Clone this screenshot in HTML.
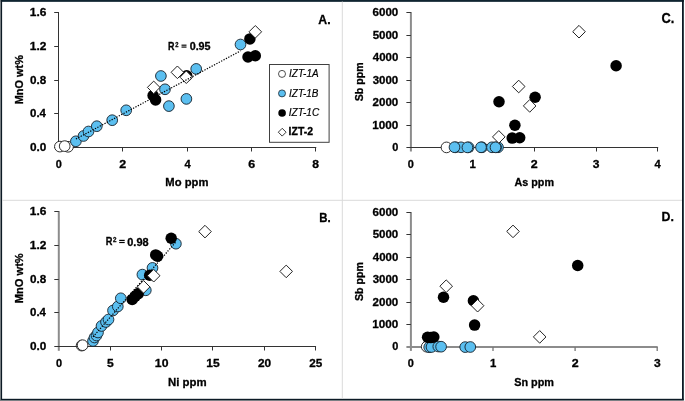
<!DOCTYPE html>
<html><head><meta charset="utf-8"><style>
html,body{margin:0;padding:0;background:#fff;}
svg{display:block;font-family:"Liberation Sans", sans-serif;will-change:transform;}
</style></head><body>
<svg width="685" height="401" viewBox="0 0 685 401" font-family='"Liberation Sans", sans-serif'>
<rect x="0" y="0" width="685" height="401" fill="#7a8084"/>
<rect x="0.8" y="0" width="684.2" height="400" fill="#fff"/>
<rect x="683.8" y="399.8" width="1.2" height="1.2" fill="#f4f4f4"/>
<rect x="0.8" y="0" width="683.0" height="1.85" fill="#0f2430"/>
<rect x="0.8" y="0" width="1.3" height="399.8" fill="#0c1a25"/>
<rect x="682.0" y="0" width="1.8" height="399.8" fill="#0c1a25"/>
<rect x="0.8" y="398.8" width="683.0" height="1.2" fill="#0c1a25"/>
<line x1="342.3" y1="1.6" x2="342.3" y2="398.4" stroke="#dadada" stroke-width="1" />
<line x1="2.2" y1="200.3" x2="682" y2="200.3" stroke="#dadada" stroke-width="1" />
<line x1="58.5" y1="148.0" x2="58.5" y2="12.0" stroke="#333" stroke-width="1" />
<line x1="58.0" y1="147.5" x2="316.28" y2="147.5" stroke="#333" stroke-width="1" />
<line x1="54.2" y1="147.5" x2="58.5" y2="147.5" stroke="#333" stroke-width="1" />
<line x1="54.2" y1="113.5" x2="58.5" y2="113.5" stroke="#333" stroke-width="1" />
<line x1="54.2" y1="80.5" x2="58.5" y2="80.5" stroke="#333" stroke-width="1" />
<line x1="54.2" y1="46.5" x2="58.5" y2="46.5" stroke="#333" stroke-width="1" />
<line x1="54.2" y1="12.5" x2="58.5" y2="12.5" stroke="#333" stroke-width="1" />
<line x1="58.5" y1="147.5" x2="58.5" y2="151.5" stroke="#333" stroke-width="1" />
<line x1="122.5" y1="147.5" x2="122.5" y2="151.5" stroke="#333" stroke-width="1" />
<line x1="187.5" y1="147.5" x2="187.5" y2="151.5" stroke="#333" stroke-width="1" />
<line x1="251.5" y1="147.5" x2="251.5" y2="151.5" stroke="#333" stroke-width="1" />
<line x1="315.5" y1="147.5" x2="315.5" y2="151.5" stroke="#333" stroke-width="1" />
<text x="30.03" y="151.10" font-size="11.00" font-weight="bold" font-style="normal" textLength="16.35" lengthAdjust="spacingAndGlyphs" fill="#000" stroke="#000" stroke-width="0.3" >0.0</text>
<text x="30.05" y="117.10" font-size="11.00" font-weight="bold" font-style="normal" textLength="15.91" lengthAdjust="spacingAndGlyphs" fill="#000" stroke="#000" stroke-width="0.3" >0.4</text>
<text x="30.04" y="84.10" font-size="11.00" font-weight="bold" font-style="normal" textLength="16.22" lengthAdjust="spacingAndGlyphs" fill="#000" stroke="#000" stroke-width="0.3" >0.8</text>
<text x="29.75" y="50.10" font-size="11.00" font-weight="bold" font-style="normal" textLength="16.63" lengthAdjust="spacingAndGlyphs" fill="#000" stroke="#000" stroke-width="0.3" >1.2</text>
<text x="29.75" y="16.10" font-size="11.00" font-weight="bold" font-style="normal" textLength="16.58" lengthAdjust="spacingAndGlyphs" fill="#000" stroke="#000" stroke-width="0.3" >1.6</text>
<text x="55.67" y="167.60" font-size="11.00" font-weight="bold" font-style="normal" textLength="6.08" lengthAdjust="spacingAndGlyphs" fill="#000" stroke="#000" stroke-width="0.3" >0</text>
<text x="119.27" y="167.60" font-size="11.00" font-weight="bold" font-style="normal" textLength="6.93" lengthAdjust="spacingAndGlyphs" fill="#000" stroke="#000" stroke-width="0.3" >2</text>
<text x="184.53" y="167.60" font-size="11.00" font-weight="bold" font-style="normal" textLength="6.23" lengthAdjust="spacingAndGlyphs" fill="#000" stroke="#000" stroke-width="0.3" >4</text>
<text x="248.25" y="167.60" font-size="11.00" font-weight="bold" font-style="normal" textLength="6.90" lengthAdjust="spacingAndGlyphs" fill="#000" stroke="#000" stroke-width="0.3" >6</text>
<text x="312.31" y="167.60" font-size="11.00" font-weight="bold" font-style="normal" textLength="6.76" lengthAdjust="spacingAndGlyphs" fill="#000" stroke="#000" stroke-width="0.3" >8</text>
<text x="165.35" y="186.00" font-size="11.34" font-weight="bold" font-style="normal" textLength="43.05" lengthAdjust="spacingAndGlyphs" fill="#000" stroke="#000" stroke-width="0.3" >Mo ppm</text>
<text transform="translate(23.00,104.23) rotate(-90)" x="0" y="0" font-size="11.63" font-weight="bold" textLength="49.12" lengthAdjust="spacingAndGlyphs" stroke="#000" stroke-width="0.3">MnO wt%</text>
<text x="318.29" y="23.60" font-size="13.23" font-weight="bold" font-style="normal" textLength="12.25" lengthAdjust="spacingAndGlyphs" fill="#000" stroke="#000" stroke-width="0.3" >A.</text>
<circle cx="59.9" cy="146.6" r="5.35" fill="#fff" stroke="#1a1a1a" stroke-width="0.9"/>
<circle cx="68.0" cy="146.8" r="5.35" fill="#fff" stroke="#1a1a1a" stroke-width="0.9"/>
<circle cx="64.7" cy="146.1" r="5.35" fill="#fff" stroke="#1a1a1a" stroke-width="0.9"/>
<circle cx="75.9" cy="141.3" r="5.35" fill="#5bbff0" stroke="#15202a" stroke-width="0.9"/>
<circle cx="83.5" cy="136" r="5.35" fill="#5bbff0" stroke="#15202a" stroke-width="0.9"/>
<circle cx="88.5" cy="131.5" r="5.35" fill="#5bbff0" stroke="#15202a" stroke-width="0.9"/>
<circle cx="96.8" cy="126.2" r="5.35" fill="#5bbff0" stroke="#15202a" stroke-width="0.9"/>
<circle cx="112.2" cy="120.2" r="5.35" fill="#5bbff0" stroke="#15202a" stroke-width="0.9"/>
<circle cx="126.2" cy="110.3" r="5.35" fill="#5bbff0" stroke="#15202a" stroke-width="0.9"/>
<circle cx="160.9" cy="76" r="5.35" fill="#5bbff0" stroke="#15202a" stroke-width="0.9"/>
<circle cx="165" cy="89.3" r="5.35" fill="#5bbff0" stroke="#15202a" stroke-width="0.9"/>
<circle cx="168.9" cy="106.1" r="5.35" fill="#5bbff0" stroke="#15202a" stroke-width="0.9"/>
<circle cx="186.4" cy="98.9" r="5.35" fill="#5bbff0" stroke="#15202a" stroke-width="0.9"/>
<circle cx="196.2" cy="68.9" r="5.35" fill="#5bbff0" stroke="#15202a" stroke-width="0.9"/>
<circle cx="240.5" cy="44.5" r="5.35" fill="#5bbff0" stroke="#15202a" stroke-width="0.9"/>
<circle cx="153.1" cy="95.5" r="5.75" fill="#000"/>
<circle cx="155.6" cy="99.9" r="5.75" fill="#000"/>
<circle cx="186.7" cy="75.7" r="5.75" fill="#000"/>
<circle cx="249.9" cy="38.9" r="5.75" fill="#000"/>
<circle cx="248" cy="57" r="5.75" fill="#000"/>
<circle cx="255.3" cy="55.7" r="5.75" fill="#000"/>
<path d="M153.7 81.10000000000001L160.0 87.4L153.7 93.7L147.39999999999998 87.4Z" fill="#fff" stroke="#222" stroke-width="1"/>
<path d="M177.4 66.0L183.70000000000002 72.3L177.4 78.6L171.1 72.3Z" fill="#fff" stroke="#222" stroke-width="1"/>
<path d="M186.3 70.9L192.60000000000002 77.2L186.3 83.5L180.0 77.2Z" fill="#fff" stroke="#222" stroke-width="1"/>
<path d="M255.3 25.5L261.6 31.8L255.3 38.1L249.0 31.8Z" fill="#fff" stroke="#222" stroke-width="1"/>
<line x1="75.9" y1="139.0" x2="240.5" y2="50.9" stroke="#000" stroke-width="1.2" stroke-dasharray="1.3 1.4"/>
<text x="168.00" y="49.70" font-size="10.47" font-weight="bold" font-style="normal" textLength="6.48" lengthAdjust="spacingAndGlyphs" fill="#000" stroke="#000" stroke-width="0.3" >R</text>
<text x="175.25" y="46.60" font-size="7.07" font-weight="bold" font-style="normal" textLength="3.23" lengthAdjust="spacingAndGlyphs" fill="#000" stroke="#000" stroke-width="0.3" >2</text>
<rect x="181.5" y="44.6" width="5.0" height="1.15" fill="#000"/><rect x="181.5" y="46.5" width="5.0" height="1.15" fill="#000"/>
<text x="189.67" y="49.70" font-size="10.29" font-weight="bold" font-style="normal" textLength="20.92" lengthAdjust="spacingAndGlyphs" fill="#000" stroke="#000" stroke-width="0.3" >0.95</text>
<rect x="269.5" y="64.5" width="59.6" height="77.8" fill="#fff" stroke="#404040" stroke-width="1"/>
<circle cx="282.0" cy="73.9" r="3.5" fill="#fff" stroke="#222" stroke-width="0.8"/>
<circle cx="282.0" cy="93.4" r="3.5" fill="#5bbff0" stroke="#1b2630" stroke-width="0.8"/>
<circle cx="282.1" cy="113.0" r="3.8" fill="#000"/>
<path d="M282.2 128.3L286.1 132.2L282.2 136.1L278.3 132.2Z" fill="#fff" stroke="#222" stroke-width="0.9"/>
<text x="289.12" y="77.40" font-size="10.32" font-weight="normal" font-style="italic" textLength="29.50" lengthAdjust="spacingAndGlyphs" fill="#000" stroke="#000" stroke-width="0.18" >IZT-1A</text>
<text x="289.12" y="96.90" font-size="10.32" font-weight="normal" font-style="italic" textLength="29.31" lengthAdjust="spacingAndGlyphs" fill="#000" stroke="#000" stroke-width="0.18" >IZT-1B</text>
<text x="288.81" y="116.30" font-size="10.32" font-weight="normal" font-style="italic" textLength="30.43" lengthAdjust="spacingAndGlyphs" fill="#000" stroke="#000" stroke-width="0.18" >IZT-1C</text>
<text x="288.62" y="135.40" font-size="10.32" font-weight="bold" font-style="normal" textLength="24.39" lengthAdjust="spacingAndGlyphs" fill="#000" stroke="#000" stroke-width="0.3" >IZT-2</text>
<line x1="58.8" y1="350.8" x2="58.8" y2="211.0" stroke="#8c8c8c" stroke-width="2" />
<line x1="54.3" y1="346.5" x2="316.05" y2="346.5" stroke="#333" stroke-width="1" />
<line x1="54.3" y1="312.5" x2="58.8" y2="312.5" stroke="#333" stroke-width="1" />
<line x1="54.3" y1="279.5" x2="58.8" y2="279.5" stroke="#333" stroke-width="1" />
<line x1="54.3" y1="245.5" x2="58.8" y2="245.5" stroke="#333" stroke-width="1" />
<line x1="54.3" y1="211.5" x2="58.8" y2="211.5" stroke="#333" stroke-width="1" />
<line x1="110.5" y1="346.5" x2="110.5" y2="350.5" stroke="#333" stroke-width="1" />
<line x1="161.5" y1="346.5" x2="161.5" y2="350.5" stroke="#333" stroke-width="1" />
<line x1="212.5" y1="346.5" x2="212.5" y2="350.5" stroke="#333" stroke-width="1" />
<line x1="264.5" y1="346.5" x2="264.5" y2="350.5" stroke="#333" stroke-width="1" />
<line x1="315.5" y1="346.5" x2="315.5" y2="350.5" stroke="#333" stroke-width="1" />
<text x="30.03" y="350.10" font-size="11.00" font-weight="bold" font-style="normal" textLength="16.35" lengthAdjust="spacingAndGlyphs" fill="#000" stroke="#000" stroke-width="0.3" >0.0</text>
<text x="30.05" y="316.10" font-size="11.00" font-weight="bold" font-style="normal" textLength="15.91" lengthAdjust="spacingAndGlyphs" fill="#000" stroke="#000" stroke-width="0.3" >0.4</text>
<text x="30.04" y="283.10" font-size="11.00" font-weight="bold" font-style="normal" textLength="16.22" lengthAdjust="spacingAndGlyphs" fill="#000" stroke="#000" stroke-width="0.3" >0.8</text>
<text x="29.75" y="249.10" font-size="11.00" font-weight="bold" font-style="normal" textLength="16.63" lengthAdjust="spacingAndGlyphs" fill="#000" stroke="#000" stroke-width="0.3" >1.2</text>
<text x="29.75" y="215.10" font-size="11.00" font-weight="bold" font-style="normal" textLength="16.58" lengthAdjust="spacingAndGlyphs" fill="#000" stroke="#000" stroke-width="0.3" >1.6</text>
<text x="56.07" y="366.90" font-size="11.43" font-weight="bold" font-style="normal" textLength="6.08" lengthAdjust="spacingAndGlyphs" fill="#000" stroke="#000" stroke-width="0.3" >0</text>
<text x="107.08" y="366.90" font-size="11.43" font-weight="bold" font-style="normal" textLength="6.71" lengthAdjust="spacingAndGlyphs" fill="#000" stroke="#000" stroke-width="0.3" >5</text>
<text x="154.88" y="366.90" font-size="11.43" font-weight="bold" font-style="normal" textLength="13.57" lengthAdjust="spacingAndGlyphs" fill="#000" stroke="#000" stroke-width="0.3" >10</text>
<text x="206.24" y="366.90" font-size="11.43" font-weight="bold" font-style="normal" textLength="13.39" lengthAdjust="spacingAndGlyphs" fill="#000" stroke="#000" stroke-width="0.3" >15</text>
<text x="257.94" y="366.90" font-size="11.43" font-weight="bold" font-style="normal" textLength="13.20" lengthAdjust="spacingAndGlyphs" fill="#000" stroke="#000" stroke-width="0.3" >20</text>
<text x="309.29" y="366.90" font-size="11.43" font-weight="bold" font-style="normal" textLength="13.03" lengthAdjust="spacingAndGlyphs" fill="#000" stroke="#000" stroke-width="0.3" >25</text>
<text x="167.94" y="385.70" font-size="11.77" font-weight="bold" font-style="normal" textLength="38.67" lengthAdjust="spacingAndGlyphs" fill="#000" stroke="#000" stroke-width="0.3" >Ni ppm</text>
<text transform="translate(23.00,303.24) rotate(-90)" x="0" y="0" font-size="11.63" font-weight="bold" textLength="49.94" lengthAdjust="spacingAndGlyphs" stroke="#000" stroke-width="0.3">MnO wt%</text>
<text x="319.13" y="221.60" font-size="13.52" font-weight="bold" font-style="normal" textLength="11.45" lengthAdjust="spacingAndGlyphs" fill="#000" stroke="#000" stroke-width="0.3" >B.</text>
<circle cx="81.6" cy="345.6" r="5.35" fill="#fff" stroke="#1a1a1a" stroke-width="0.9"/>
<circle cx="82.6" cy="345.2" r="5.35" fill="#fff" stroke="#1a1a1a" stroke-width="0.9"/>
<circle cx="93.0" cy="341.0" r="5.35" fill="#5bbff0" stroke="#15202a" stroke-width="0.9"/>
<circle cx="94.5" cy="337.5" r="5.35" fill="#5bbff0" stroke="#15202a" stroke-width="0.9"/>
<circle cx="96.5" cy="335.5" r="5.35" fill="#5bbff0" stroke="#15202a" stroke-width="0.9"/>
<circle cx="98.0" cy="332.5" r="5.35" fill="#5bbff0" stroke="#15202a" stroke-width="0.9"/>
<circle cx="101.5" cy="326.0" r="5.35" fill="#5bbff0" stroke="#15202a" stroke-width="0.9"/>
<circle cx="106.0" cy="322.0" r="5.35" fill="#5bbff0" stroke="#15202a" stroke-width="0.9"/>
<circle cx="108.5" cy="319.5" r="5.35" fill="#5bbff0" stroke="#15202a" stroke-width="0.9"/>
<circle cx="113.0" cy="310.5" r="5.35" fill="#5bbff0" stroke="#15202a" stroke-width="0.9"/>
<circle cx="117.8" cy="306.5" r="5.35" fill="#5bbff0" stroke="#15202a" stroke-width="0.9"/>
<circle cx="120.8" cy="298.3" r="5.35" fill="#5bbff0" stroke="#15202a" stroke-width="0.9"/>
<circle cx="145.8" cy="290.3" r="5.35" fill="#5bbff0" stroke="#15202a" stroke-width="0.9"/>
<circle cx="142.4" cy="274.6" r="5.35" fill="#5bbff0" stroke="#15202a" stroke-width="0.9"/>
<circle cx="152.5" cy="267.9" r="5.35" fill="#5bbff0" stroke="#15202a" stroke-width="0.9"/>
<circle cx="175.9" cy="243.7" r="5.35" fill="#5bbff0" stroke="#15202a" stroke-width="0.9"/>
<circle cx="132.2" cy="299.4" r="5.75" fill="#000"/>
<circle cx="135.3" cy="296.2" r="5.75" fill="#000"/>
<circle cx="138.3" cy="293.6" r="5.75" fill="#000"/>
<circle cx="149.7" cy="275.2" r="5.75" fill="#000"/>
<circle cx="155.7" cy="254.9" r="5.75" fill="#000"/>
<circle cx="157.6" cy="256.2" r="5.75" fill="#000"/>
<circle cx="171.2" cy="238.2" r="5.75" fill="#000"/>
<path d="M143.6 280.59999999999997L149.9 286.9L143.6 293.2L137.29999999999998 286.9Z" fill="#fff" stroke="#222" stroke-width="1"/>
<path d="M153.7 269.4L160.0 275.7L153.7 282.0L147.39999999999998 275.7Z" fill="#fff" stroke="#222" stroke-width="1"/>
<path d="M205 225.29999999999998L211.3 231.6L205 237.9L198.7 231.6Z" fill="#fff" stroke="#222" stroke-width="1"/>
<path d="M286.2 265.09999999999997L292.5 271.4L286.2 277.7L279.9 271.4Z" fill="#fff" stroke="#222" stroke-width="1"/>
<line x1="93.0" y1="336.9" x2="176.0" y2="241.8" stroke="#000" stroke-width="1.2" stroke-dasharray="1.3 1.4"/>
<text x="105.68" y="245.40" font-size="10.90" font-weight="bold" font-style="normal" textLength="6.71" lengthAdjust="spacingAndGlyphs" fill="#000" stroke="#000" stroke-width="0.3" >R</text>
<text x="113.03" y="242.10" font-size="6.93" font-weight="bold" font-style="normal" textLength="3.47" lengthAdjust="spacingAndGlyphs" fill="#000" stroke="#000" stroke-width="0.3" >2</text>
<rect x="119.2" y="239.8" width="5.5" height="1.2" fill="#000"/><rect x="119.2" y="241.9" width="5.5" height="1.2" fill="#000"/>
<text x="127.27" y="245.50" font-size="10.57" font-weight="bold" font-style="normal" textLength="21.37" lengthAdjust="spacingAndGlyphs" fill="#000" stroke="#000" stroke-width="0.3" >0.98</text>
<line x1="410.9" y1="151.5" x2="410.9" y2="12.0" stroke="#8c8c8c" stroke-width="2" />
<line x1="406.4" y1="147.5" x2="658.2" y2="147.5" stroke="#333" stroke-width="1" />
<line x1="406.4" y1="125.5" x2="410.9" y2="125.5" stroke="#333" stroke-width="1" />
<line x1="406.4" y1="102.5" x2="410.9" y2="102.5" stroke="#333" stroke-width="1" />
<line x1="406.4" y1="80.5" x2="410.9" y2="80.5" stroke="#333" stroke-width="1" />
<line x1="406.4" y1="57.5" x2="410.9" y2="57.5" stroke="#333" stroke-width="1" />
<line x1="406.4" y1="35.5" x2="410.9" y2="35.5" stroke="#333" stroke-width="1" />
<line x1="406.4" y1="12.5" x2="410.9" y2="12.5" stroke="#333" stroke-width="1" />
<line x1="472.5" y1="147.5" x2="472.5" y2="151.5" stroke="#333" stroke-width="1" />
<line x1="534.5" y1="147.5" x2="534.5" y2="151.5" stroke="#333" stroke-width="1" />
<line x1="596.5" y1="147.5" x2="596.5" y2="151.5" stroke="#333" stroke-width="1" />
<line x1="657.5" y1="147.5" x2="657.5" y2="151.5" stroke="#333" stroke-width="1" />
<text x="392.17" y="151.10" font-size="11.00" font-weight="bold" font-style="normal" textLength="6.08" lengthAdjust="spacingAndGlyphs" fill="#000" stroke="#000" stroke-width="0.3" >0</text>
<text x="372.26" y="129.10" font-size="11.00" font-weight="bold" font-style="normal" textLength="26.02" lengthAdjust="spacingAndGlyphs" fill="#000" stroke="#000" stroke-width="0.3" >1000</text>
<text x="372.60" y="106.10" font-size="11.00" font-weight="bold" font-style="normal" textLength="25.67" lengthAdjust="spacingAndGlyphs" fill="#000" stroke="#000" stroke-width="0.3" >2000</text>
<text x="372.74" y="84.10" font-size="11.00" font-weight="bold" font-style="normal" textLength="25.53" lengthAdjust="spacingAndGlyphs" fill="#000" stroke="#000" stroke-width="0.3" >3000</text>
<text x="372.83" y="61.10" font-size="11.00" font-weight="bold" font-style="normal" textLength="25.44" lengthAdjust="spacingAndGlyphs" fill="#000" stroke="#000" stroke-width="0.3" >4000</text>
<text x="372.65" y="39.10" font-size="11.00" font-weight="bold" font-style="normal" textLength="25.63" lengthAdjust="spacingAndGlyphs" fill="#000" stroke="#000" stroke-width="0.3" >5000</text>
<text x="372.58" y="16.10" font-size="11.00" font-weight="bold" font-style="normal" textLength="25.70" lengthAdjust="spacingAndGlyphs" fill="#000" stroke="#000" stroke-width="0.3" >6000</text>
<text x="407.87" y="168.10" font-size="11.00" font-weight="bold" font-style="normal" textLength="6.08" lengthAdjust="spacingAndGlyphs" fill="#000" stroke="#000" stroke-width="0.3" >0</text>
<text x="469.63" y="168.10" font-size="11.00" font-weight="bold" font-style="normal" textLength="6.33" lengthAdjust="spacingAndGlyphs" fill="#000" stroke="#000" stroke-width="0.3" >1</text>
<text x="530.87" y="168.10" font-size="11.00" font-weight="bold" font-style="normal" textLength="6.93" lengthAdjust="spacingAndGlyphs" fill="#000" stroke="#000" stroke-width="0.3" >2</text>
<text x="592.72" y="168.10" font-size="11.00" font-weight="bold" font-style="normal" textLength="6.71" lengthAdjust="spacingAndGlyphs" fill="#000" stroke="#000" stroke-width="0.3" >3</text>
<text x="654.53" y="168.10" font-size="11.00" font-weight="bold" font-style="normal" textLength="6.23" lengthAdjust="spacingAndGlyphs" fill="#000" stroke="#000" stroke-width="0.3" >4</text>
<text x="514.53" y="185.80" font-size="11.05" font-weight="bold" font-style="normal" textLength="39.43" lengthAdjust="spacingAndGlyphs" fill="#000" stroke="#000" stroke-width="0.3" >As ppm</text>
<text transform="translate(363.20,101.20) rotate(-90)" x="0" y="0" font-size="11.63" font-weight="bold" textLength="38.76" lengthAdjust="spacingAndGlyphs" stroke="#000" stroke-width="0.3">Sb ppm</text>
<text x="661.57" y="22.70" font-size="14.10" font-weight="bold" font-style="normal" textLength="12.81" lengthAdjust="spacingAndGlyphs" fill="#000" stroke="#000" stroke-width="0.3" >C.</text>
<circle cx="446.5" cy="147.4" r="5.35" fill="#fff" stroke="#1a1a1a" stroke-width="0.9"/>
<circle cx="455.6" cy="147.3" r="5.35" fill="#5bbff0" stroke="#15202a" stroke-width="0.9"/>
<circle cx="461.0" cy="147.3" r="5.35" fill="#5bbff0" stroke="#15202a" stroke-width="0.9"/>
<circle cx="454.5" cy="147.2" r="5.35" fill="#5bbff0" stroke="#15202a" stroke-width="0.9"/>
<circle cx="468.6" cy="147.3" r="5.35" fill="#5bbff0" stroke="#15202a" stroke-width="0.9"/>
<circle cx="467.4" cy="147.4" r="5.35" fill="#5bbff0" stroke="#15202a" stroke-width="0.9"/>
<circle cx="482.0" cy="147.3" r="5.35" fill="#5bbff0" stroke="#15202a" stroke-width="0.9"/>
<circle cx="481.0" cy="147.3" r="5.35" fill="#5bbff0" stroke="#15202a" stroke-width="0.9"/>
<circle cx="492.0" cy="147.3" r="5.35" fill="#5bbff0" stroke="#15202a" stroke-width="0.9"/>
<circle cx="498.0" cy="147.3" r="5.35" fill="#5bbff0" stroke="#15202a" stroke-width="0.9"/>
<circle cx="496.1" cy="147.3" r="5.35" fill="#5bbff0" stroke="#15202a" stroke-width="0.9"/>
<circle cx="495.5" cy="147.3" r="5.35" fill="#5bbff0" stroke="#15202a" stroke-width="0.9"/>
<circle cx="499.0" cy="101.8" r="5.75" fill="#000"/>
<circle cx="535.1" cy="97.2" r="5.75" fill="#000"/>
<circle cx="514.9" cy="125.2" r="5.75" fill="#000"/>
<circle cx="512.2" cy="138.1" r="5.75" fill="#000"/>
<circle cx="519.7" cy="137.8" r="5.75" fill="#000"/>
<circle cx="616.1" cy="65.8" r="5.75" fill="#000"/>
<path d="M498.8 130.6L505.1 136.9L498.8 143.20000000000002L492.5 136.9Z" fill="#fff" stroke="#222" stroke-width="1"/>
<path d="M518.7 80.2L525.0 86.5L518.7 92.8L512.4000000000001 86.5Z" fill="#fff" stroke="#222" stroke-width="1"/>
<path d="M529.7 99.60000000000001L536.0 105.9L529.7 112.2L523.4000000000001 105.9Z" fill="#fff" stroke="#222" stroke-width="1"/>
<path d="M579.0 25.4L585.3 31.7L579.0 38.0L572.7 31.7Z" fill="#fff" stroke="#222" stroke-width="1"/>
<line x1="410.9" y1="350.9" x2="410.9" y2="212.0" stroke="#8c8c8c" stroke-width="2" />
<line x1="406.4" y1="346.9" x2="657.6999999999999" y2="346.9" stroke="#8c8c8c" stroke-width="2" />
<line x1="406.4" y1="324.5" x2="410.9" y2="324.5" stroke="#333" stroke-width="1" />
<line x1="406.4" y1="302.5" x2="410.9" y2="302.5" stroke="#333" stroke-width="1" />
<line x1="406.4" y1="279.5" x2="410.9" y2="279.5" stroke="#333" stroke-width="1" />
<line x1="406.4" y1="257.5" x2="410.9" y2="257.5" stroke="#333" stroke-width="1" />
<line x1="406.4" y1="234.5" x2="410.9" y2="234.5" stroke="#333" stroke-width="1" />
<line x1="406.4" y1="212.5" x2="410.9" y2="212.5" stroke="#333" stroke-width="1" />
<line x1="493.0" y1="346.9" x2="493.0" y2="350.9" stroke="#777" stroke-width="1.3" />
<line x1="575.0999999999999" y1="346.9" x2="575.0999999999999" y2="350.9" stroke="#777" stroke-width="1.3" />
<line x1="657.1999999999999" y1="346.9" x2="657.1999999999999" y2="350.9" stroke="#777" stroke-width="1.3" />
<text x="392.17" y="350.10" font-size="11.00" font-weight="bold" font-style="normal" textLength="6.08" lengthAdjust="spacingAndGlyphs" fill="#000" stroke="#000" stroke-width="0.3" >0</text>
<text x="372.26" y="328.10" font-size="11.00" font-weight="bold" font-style="normal" textLength="26.02" lengthAdjust="spacingAndGlyphs" fill="#000" stroke="#000" stroke-width="0.3" >1000</text>
<text x="372.60" y="306.10" font-size="11.00" font-weight="bold" font-style="normal" textLength="25.67" lengthAdjust="spacingAndGlyphs" fill="#000" stroke="#000" stroke-width="0.3" >2000</text>
<text x="372.74" y="283.10" font-size="11.00" font-weight="bold" font-style="normal" textLength="25.53" lengthAdjust="spacingAndGlyphs" fill="#000" stroke="#000" stroke-width="0.3" >3000</text>
<text x="372.83" y="261.10" font-size="11.00" font-weight="bold" font-style="normal" textLength="25.44" lengthAdjust="spacingAndGlyphs" fill="#000" stroke="#000" stroke-width="0.3" >4000</text>
<text x="372.65" y="238.10" font-size="11.00" font-weight="bold" font-style="normal" textLength="25.63" lengthAdjust="spacingAndGlyphs" fill="#000" stroke="#000" stroke-width="0.3" >5000</text>
<text x="372.58" y="216.10" font-size="11.00" font-weight="bold" font-style="normal" textLength="25.70" lengthAdjust="spacingAndGlyphs" fill="#000" stroke="#000" stroke-width="0.3" >6000</text>
<text x="407.87" y="367.10" font-size="11.00" font-weight="bold" font-style="normal" textLength="6.08" lengthAdjust="spacingAndGlyphs" fill="#000" stroke="#000" stroke-width="0.3" >0</text>
<text x="490.03" y="367.10" font-size="11.00" font-weight="bold" font-style="normal" textLength="6.33" lengthAdjust="spacingAndGlyphs" fill="#000" stroke="#000" stroke-width="0.3" >1</text>
<text x="571.67" y="367.10" font-size="11.00" font-weight="bold" font-style="normal" textLength="6.93" lengthAdjust="spacingAndGlyphs" fill="#000" stroke="#000" stroke-width="0.3" >2</text>
<text x="653.92" y="367.10" font-size="11.00" font-weight="bold" font-style="normal" textLength="6.71" lengthAdjust="spacingAndGlyphs" fill="#000" stroke="#000" stroke-width="0.3" >3</text>
<text x="514.19" y="385.60" font-size="11.48" font-weight="bold" font-style="normal" textLength="39.79" lengthAdjust="spacingAndGlyphs" fill="#000" stroke="#000" stroke-width="0.3" >Sn ppm</text>
<text transform="translate(363.20,301.01) rotate(-90)" x="0" y="0" font-size="11.63" font-weight="bold" textLength="38.86" lengthAdjust="spacingAndGlyphs" stroke="#000" stroke-width="0.3">Sb ppm</text>
<text x="661.47" y="220.90" font-size="13.52" font-weight="bold" font-style="normal" textLength="12.38" lengthAdjust="spacingAndGlyphs" fill="#000" stroke="#000" stroke-width="0.3" >D.</text>
<circle cx="426.7" cy="346.7" r="5.35" fill="#fff" stroke="#1a1a1a" stroke-width="0.9"/>
<circle cx="429.2" cy="347.2" r="5.35" fill="#5bbff0" stroke="#15202a" stroke-width="0.9"/>
<circle cx="431.5" cy="347.0" r="5.35" fill="#5bbff0" stroke="#15202a" stroke-width="0.9"/>
<circle cx="438.3" cy="346.5" r="5.35" fill="#5bbff0" stroke="#15202a" stroke-width="0.9"/>
<circle cx="441.1" cy="346.7" r="5.35" fill="#5bbff0" stroke="#15202a" stroke-width="0.9"/>
<circle cx="465.2" cy="347.1" r="5.35" fill="#5bbff0" stroke="#15202a" stroke-width="0.9"/>
<circle cx="470.3" cy="347.0" r="5.35" fill="#5bbff0" stroke="#15202a" stroke-width="0.9"/>
<circle cx="427.6" cy="337.3" r="5.75" fill="#000"/>
<circle cx="430.8" cy="337.6" r="5.75" fill="#000"/>
<circle cx="433.8" cy="337.0" r="5.75" fill="#000"/>
<circle cx="443.5" cy="297.2" r="5.75" fill="#000"/>
<circle cx="473.4" cy="300.7" r="5.75" fill="#000"/>
<circle cx="474.6" cy="325.1" r="5.75" fill="#000"/>
<circle cx="577.7" cy="265.5" r="5.75" fill="#000"/>
<path d="M446.2 279.9L452.5 286.2L446.2 292.5L439.9 286.2Z" fill="#fff" stroke="#222" stroke-width="1"/>
<path d="M477.6 299.4L483.90000000000003 305.7L477.6 312.0L471.3 305.7Z" fill="#fff" stroke="#222" stroke-width="1"/>
<path d="M513.0 225.1L519.3 231.4L513.0 237.70000000000002L506.7 231.4Z" fill="#fff" stroke="#222" stroke-width="1"/>
<path d="M539.7 330.59999999999997L546.0 336.9L539.7 343.2L533.4000000000001 336.9Z" fill="#fff" stroke="#222" stroke-width="1"/>
</svg>
</body></html>
